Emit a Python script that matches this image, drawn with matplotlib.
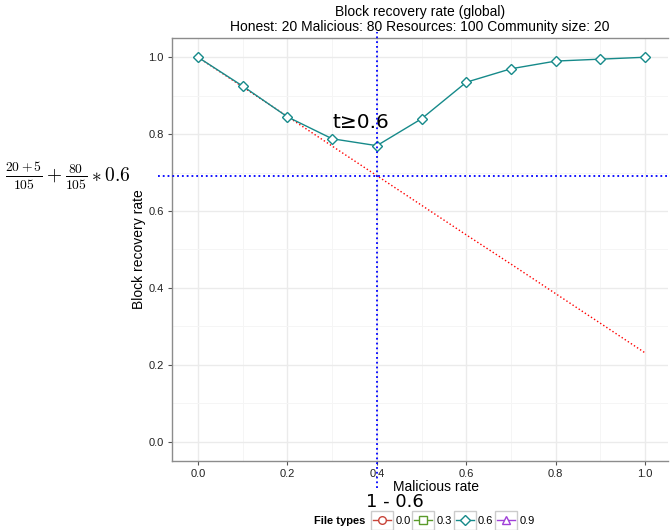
import matplotlib
matplotlib.use("Agg")
from matplotlib import pyplot as plt
from matplotlib.lines import Line2D
from matplotlib.patches import Rectangle

plt.rcParams["font.family"] = ["Liberation Sans", "DejaVu Sans"]
plt.rcParams["mathtext.fontset"] = "cm"

# data
malicious_rate = [0.0, 0.1, 0.2, 0.3, 0.4, 0.5, 0.6, 0.7, 0.8, 0.9, 1.0]
recovery_06 = [1.0, 0.925, 0.845, 0.788, 0.77, 0.84, 0.935, 0.97, 0.99, 0.995, 1.0]
expected = [1.0, 0.923, 0.846, 0.769, 0.692, 0.615, 0.538, 0.462, 0.385, 0.308, 0.231]
threshold_x = 0.4
threshold_y = 0.69

file_types = ["0.0", "0.3", "0.6", "0.9"]
type_colors = ["#C8453A", "#5A9A2A", "#168A8A", "#A040D8"]
type_markers = ["o", "s", "D", "^"]

W, H = 670, 530
fig = plt.figure(figsize=(W / 100, H / 100), dpi=100)
ax = fig.add_axes([172 / W, 1 - 461 / H, 496 / W, 423 / H])

ax.set_xlim(-0.058, 1.051)
ax.set_ylim(-0.05, 1.05)
ax.set_xticks([0.0, 0.2, 0.4, 0.6, 0.8, 1.0])
ax.set_yticks([0.0, 0.2, 0.4, 0.6, 0.8, 1.0])
ax.set_xticks([0.1, 0.3, 0.5, 0.7, 0.9], minor=True)
ax.set_yticks([0.1, 0.3, 0.5, 0.7, 0.9], minor=True)
ax.grid(True, which="major", color="#EBEBEB", lw=1.0)
ax.grid(True, which="minor", color="#F5F5F5", lw=0.7)
ax.set_axisbelow(True)
for s in ax.spines.values():
    s.set_color("#8C8C8C")
    s.set_linewidth(1.0)
ax.spines["right"].set_visible(False)
ax.tick_params(which="major", length=3, color="#555555", labelsize=8, labelcolor="#222222", pad=3)
ax.tick_params(which="minor", length=0)

ax.plot(malicious_rate, expected, color="red", ls=":", lw=1.0, zorder=3)
ax.plot(malicious_rate, recovery_06, color=type_colors[2], lw=1.0, marker="D",
        ms=5.5, mfc="white", mec=type_colors[2], mew=1.0, zorder=4)

ax.axvline(threshold_x, ymin=-0.064, ymax=1.014, color="blue", ls=":", lw=1.3,
           clip_on=False, zorder=5)
ax.axhline(threshold_y, xmin=-0.028, xmax=1.01, color="blue", ls=":", lw=1.3,
           clip_on=False, zorder=5)

ax.text(0.365, 0.805, "t≥0.6", fontsize=14.5, ha="center", va="bottom",
        family=["DejaVu Sans"])

ax.set_ylabel("Block recovery rate", fontsize=10, labelpad=2)
fig.text(436 / W, 1 - 487 / H, "Malicious rate", fontsize=10, ha="center", va="center")
fig.text(395 / W, 1 - 502 / H, "1 - 0.6", fontsize=13, ha="center", va="center",
         family=["DejaVu Sans"])
fig.text(5 / W, 1 - 176 / H, r"$\frac{20+5}{105}+\frac{80}{105}*0.6$", fontsize=14,
         ha="left", va="center")

fig.text(420 / W, 1 - 12 / H, "Block recovery rate (global)", fontsize=10,
         ha="center", va="center")
fig.text(420 / W, 1 - 27 / H, "Honest: 20 Malicious: 80 Resources: 100 Community size: 20",
         fontsize=10, ha="center", va="center")

# legend at the bottom
fig.text(340 / W, 1 - 521 / H, "File types", fontsize=8, fontweight="bold",
         ha="center", va="center")
handles = [Line2D([], [], color=c, marker=m, ms=5.5, mfc="white", mec=c, lw=1.0)
           for c, m in zip(type_colors, type_markers)]
leg = fig.legend(handles, file_types, loc="center left", bbox_to_anchor=(373 / W, 1 - 521 / H),
                 ncol=4, frameon=False, fontsize=8, handlelength=1.6, handletextpad=0.4,
                 columnspacing=0.35, borderpad=0, borderaxespad=0)
fig.canvas.draw()
renderer = fig.canvas.get_renderer()
for h in leg.legend_handles:
    bb = h.get_window_extent(renderer)
    cx = (bb.x0 + bb.x1) / 2
    cy = (bb.y0 + bb.y1) / 2
    fig.add_artist(Rectangle(((cx - 11) / W, (cy - 9.5) / H), 22 / W, 19 / H,
                             transform=fig.transFigure, fill=False,
                             edgecolor="#CCCCCC", lw=1.0))

fig.savefig("out.png", dpi=100)
